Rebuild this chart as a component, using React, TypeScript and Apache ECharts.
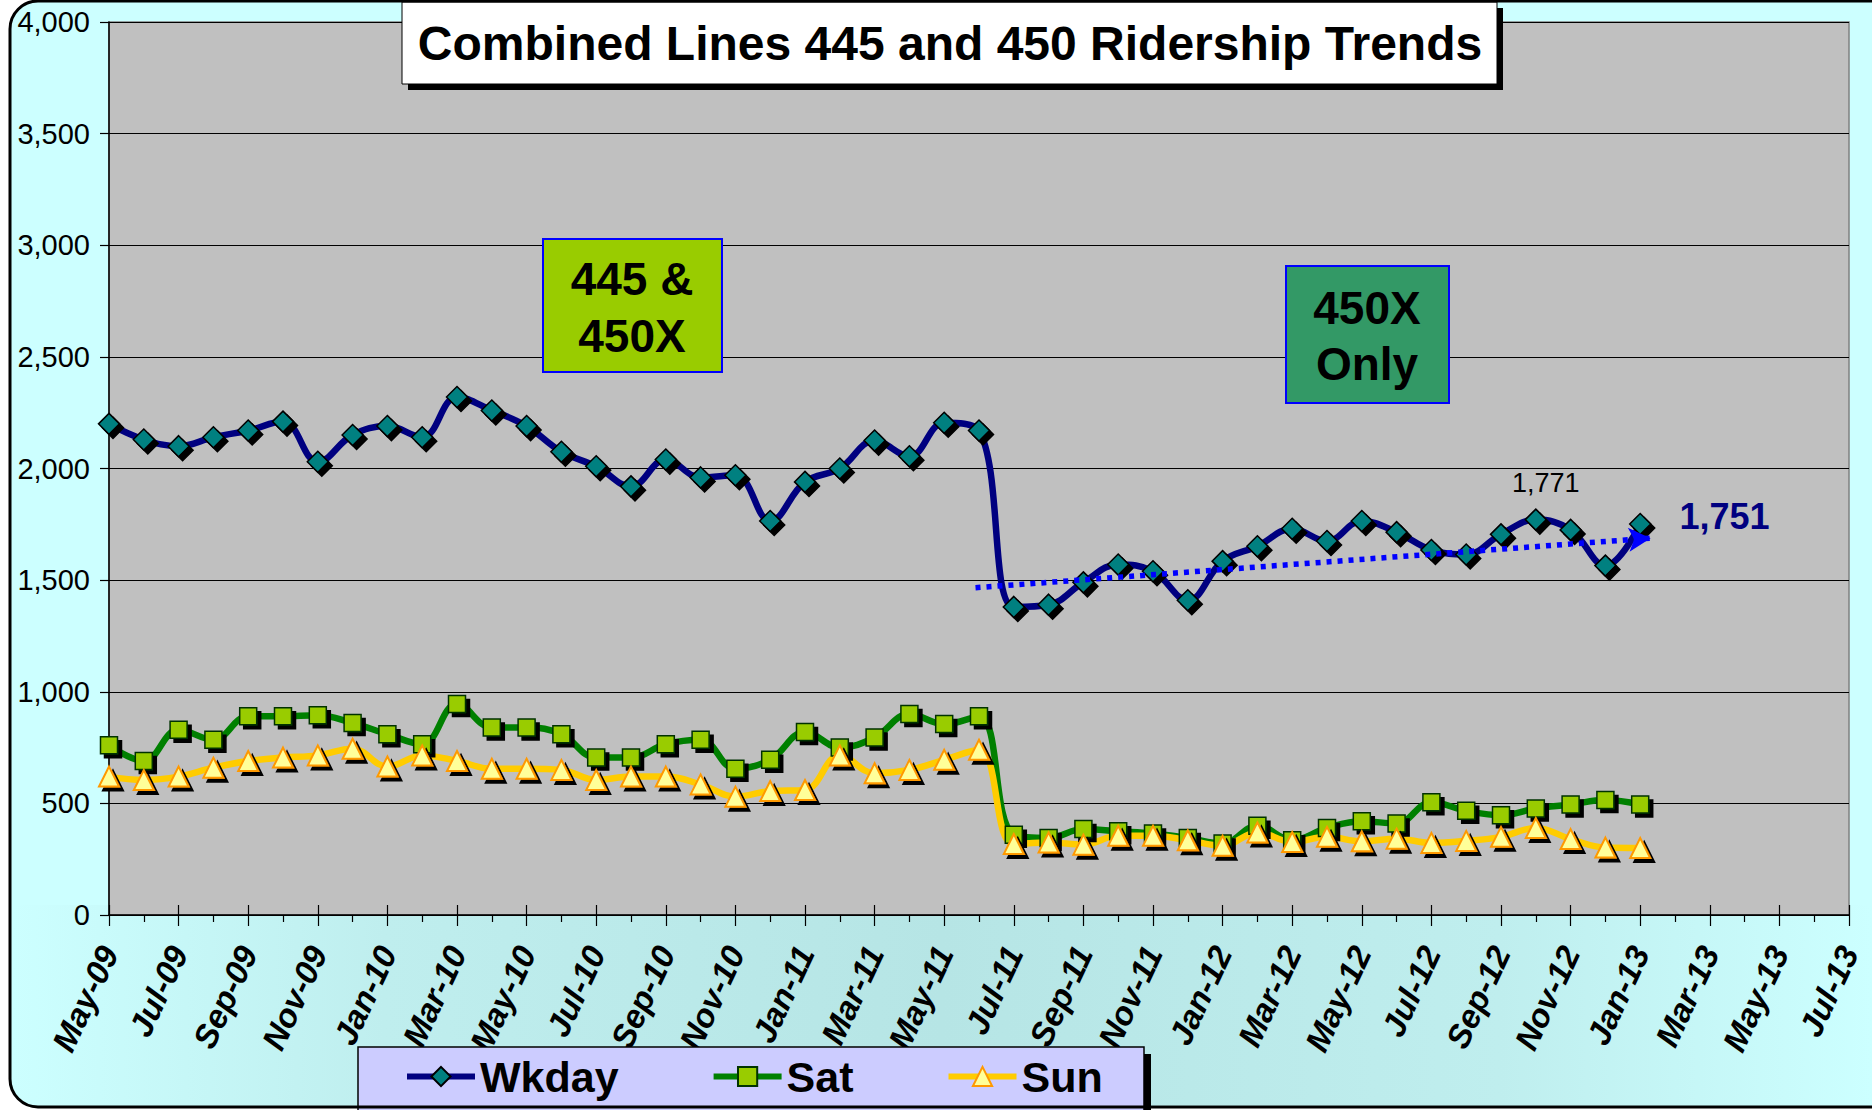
import React, { useEffect, useRef } from "react";
import * as echarts from "echarts";

const FONT = "'Liberation Sans', Arial, Helvetica, sans-serif";

const MONTHS = [
  "May-09", "Jun-09", "Jul-09", "Aug-09", "Sep-09", "Oct-09", "Nov-09", "Dec-09",
  "Jan-10", "Feb-10", "Mar-10", "Apr-10", "May-10", "Jun-10", "Jul-10", "Aug-10", "Sep-10", "Oct-10", "Nov-10", "Dec-10",
  "Jan-11", "Feb-11", "Mar-11", "Apr-11", "May-11", "Jun-11", "Jul-11", "Aug-11", "Sep-11", "Oct-11", "Nov-11", "Dec-11",
  "Jan-12", "Feb-12", "Mar-12", "Apr-12", "May-12", "Jun-12", "Jul-12", "Aug-12", "Sep-12", "Oct-12", "Nov-12", "Dec-12",
  "Jan-13", "Feb-13", "Mar-13", "Apr-13", "May-13", "Jun-13", "Jul-13",
];

const WKDAY = [
  2200, 2130, 2100, 2140, 2170, 2210, 2030, 2150,
  2190, 2140, 2320, 2260, 2190, 2075, 2010, 1920, 2040, 1960, 1970, 1765,
  1940, 2000, 2125, 2055, 2205, 2170, 1380, 1390, 1490, 1570, 1540, 1410,
  1585, 1652, 1730, 1675, 1765, 1715, 1635, 1615, 1705, 1771, 1725, 1565,
  1751,
];

const SAT = [
  760, 690, 830, 785, 890, 890, 895, 860,
  810, 765, 945, 840, 840, 810, 705, 705, 765, 785, 655, 695,
  820, 750, 795, 900, 855, 890, 360, 345, 385, 375, 365, 345,
  320, 400, 335, 390, 420, 410, 505, 467, 447, 477, 495, 515,
  495,
];

const SUN = [
  620, 605, 620, 660, 690, 705, 715, 745,
  665, 715, 690, 655, 655, 650, 605, 620, 620, 585, 530, 555,
  560, 715, 635, 650, 695, 740, 318, 325, 315, 355, 355, 335,
  310, 370, 327, 350, 330, 342, 323, 332, 350, 390, 340, 302,
  300,
];

// Linear trend line (month index, riders)
const TREND_START = [24.9, 1466];
const TREND_END = [44.3, 1688];

const LABELLED_PEAK = 41; // Oct-12
const LABELLED_LAST = 44; // Jan-13

export default function App() {
  const ref = useRef<HTMLDivElement>(null);

  useEffect(() => {
    const chart = echarts.init(ref.current!, null, { renderer: "svg" });

    const wkData = WKDAY.map((v, i) => {
      if (i === LABELLED_PEAK) {
        return {
          value: [i, v],
          label: {
            show: true,
            formatter: v.toLocaleString("en-US"),
            position: "top",
            distance: 12,
            offset: [10, 0],
            fontSize: 27,
            color: "#000",
            fontFamily: FONT,
          },
        };
      }
      if (i === LABELLED_LAST) {
        return {
          value: [i, v],
          label: {
            show: true,
            formatter: v.toLocaleString("en-US"),
            position: "right",
            distance: 28,
            offset: [0, -8],
            fontSize: 36,
            fontWeight: "bold",
            color: "#000080",
            fontFamily: FONT,
          },
        };
      }
      return [i, v];
    });

    const shadow = { shadowColor: "#000", shadowBlur: 0, shadowOffsetX: 4, shadowOffsetY: 4 };

    const option: any = {
      animation: false,
      textStyle: { fontFamily: FONT },
      grid: {
        left: 109,
        right: 23,
        top: 22,
        bottom: 195,
        show: true,
        backgroundColor: "#C0C0C0",
        borderColor: "#808080",
        borderWidth: 1.5,
        z: 0,
      },
      legend: {
        data: ["Wkday", "Sat", "Sun"],
        left: 399,
        top: 1050,
        itemWidth: 68,
        itemHeight: 24,
        itemGap: 92,
        selectedMode: false,
        z: 8,
        lineStyle: { width: 6 },
        textStyle: { fontSize: 43, fontWeight: "bold", color: "#000", fontFamily: FONT },
      },
      xAxis: [
        {
          type: "value",
          min: 0,
          max: 50,
          interval: 2,
          position: "bottom",
          axisLine: { show: true, lineStyle: { color: "#000", width: 1.5 } },
          axisTick: { show: true, length: 11, lineStyle: { color: "#000", width: 1.2 } },
          minorTick: { show: true, splitNumber: 2, length: 7, lineStyle: { color: "#000", width: 1.2 } },
          splitLine: { show: false },
          minorSplitLine: { show: false },
          axisLabel: {
            rotate: 65,
            fontSize: 33,
            fontWeight: "bold",
            fontStyle: "italic",
            color: "#000",
            margin: 33,
            fontFamily: FONT,
            showMinLabel: true,
            showMaxLabel: true,
            formatter: (v: number) => MONTHS[v] ?? "",
          },
        },
        {
          type: "value",
          min: 0,
          max: 50,
          interval: 2,
          position: "bottom",
          axisLine: { show: false },
          axisTick: { show: true, inside: true, length: 10, lineStyle: { color: "#000", width: 1.2 } },
          splitLine: { show: false },
          axisLabel: { show: false },
        },
      ],
      yAxis: {
        type: "value",
        min: 0,
        max: 4000,
        interval: 500,
        axisLine: { show: true, lineStyle: { color: "#000", width: 1.5 } },
        axisTick: { show: true, length: 9, lineStyle: { color: "#000", width: 1.2 } },
        splitLine: { show: true, lineStyle: { color: "#000", width: 1.2 } },
        axisLabel: {
          fontSize: 29,
          color: "#000",
          margin: 19,
          fontFamily: FONT,
          formatter: (v: number) => v.toLocaleString("en-US"),
        },
      },
      series: [
        {
          name: "Wkday",
          type: "line",
          xAxisIndex: 0,
          data: wkData,
          smooth: 0.4,
          symbol: "diamond",
          symbolSize: 21,
          z: 4,
          lineStyle: { color: "#000080", width: 6.5 },
          itemStyle: { color: "#008080", borderColor: "#000", borderWidth: 1.5, ...shadow },
          markLine: {
            silent: true,
            symbol: ["none", "arrow"],
            symbolSize: [18, 22],
            label: { show: false },
            lineStyle: { color: "#0000FF", width: 5.5, type: [5, 6] },
            data: [[{ coord: TREND_START }, { coord: TREND_END }]],
          },
        },
        {
          name: "Sat",
          type: "line",
          xAxisIndex: 0,
          data: SAT.map((v, i) => [i, v]),
          smooth: 0.4,
          symbol: "rect",
          symbolSize: 17,
          z: 3,
          lineStyle: { color: "#008000", width: 6.5 },
          itemStyle: { color: "#99CC00", borderColor: "#003300", borderWidth: 1.5, ...shadow },
        },
        {
          name: "Sun",
          type: "line",
          xAxisIndex: 0,
          data: SUN.map((v, i) => [i, v]),
          smooth: 0.4,
          symbol: "triangle",
          symbolSize: 20,
          z: 3,
          lineStyle: { color: "#FFCC00", width: 6.5 },
          itemStyle: { color: "#FFFF99", borderColor: "#FF9900", borderWidth: 2, ...shadow },
        },
      ],
      graphic: [
        {
          type: "rect",
          z: -20,
          silent: true,
          shape: { x: 10, y: 1, width: 1900, height: 1106, r: 28 },
          style: { fill: "#CCFFFF" },
        },
        {
          type: "rect",
          z: -19,
          silent: true,
          shape: { x: 12, y: 905, width: 1860, height: 200, r: [0, 0, 0, 26] },
          style: {
            fill: new echarts.graphic.LinearGradient(0, 0, 1, 0, [
              { offset: 0, color: "#CCFFFF" },
              { offset: 0.2, color: "#BFEEEE" },
              { offset: 0.5, color: "#B6E5E5" },
              { offset: 0.8, color: "#BFEEEE" },
              { offset: 1, color: "#CCFFFF" },
            ]),
          },
        },
        // title box
        {
          type: "rect",
          z: 20,
          silent: true,
          shape: { x: 408, y: 8, width: 1095, height: 82 },
          style: { fill: "#000" },
        },
        {
          type: "rect",
          z: 21,
          silent: true,
          shape: { x: 402, y: 2, width: 1095, height: 82 },
          style: { fill: "#fff", stroke: "#000", lineWidth: 1 },
        },
        {
          type: "text",
          z: 22,
          silent: true,
          x: 950,
          y: 43,
          style: {
            text: "Combined Lines 445 and 450 Ridership Trends",
            fill: "#000",
            font: `bold 48px ${FONT}`,
            align: "center",
            verticalAlign: "middle",
          },
        },
        // period boxes
        {
          type: "rect",
          z: 20,
          silent: true,
          shape: { x: 543, y: 239, width: 179, height: 133 },
          style: { fill: "#99CC00", stroke: "#0000FF", lineWidth: 2 },
        },
        {
          type: "text",
          z: 21,
          silent: true,
          x: 632,
          y: 307,
          style: {
            text: "445 &\n450X",
            fill: "#000",
            font: `bold 46px ${FONT}`,
            lineHeight: 57,
            align: "center",
            verticalAlign: "middle",
          },
        },
        {
          type: "rect",
          z: 20,
          silent: true,
          shape: { x: 1286, y: 266, width: 163, height: 137 },
          style: { fill: "#339966", stroke: "#0000FF", lineWidth: 2 },
        },
        {
          type: "text",
          z: 21,
          silent: true,
          x: 1367,
          y: 336,
          style: {
            text: "450X\nOnly",
            fill: "#000",
            font: `bold 46px ${FONT}`,
            lineHeight: 56,
            align: "center",
            verticalAlign: "middle",
          },
        },
        // legend box
        {
          type: "rect",
          z: 5,
          silent: true,
          shape: { x: 365, y: 1054, width: 786, height: 80 },
          style: { fill: "#000" },
        },
        {
          type: "rect",
          z: 6,
          silent: true,
          shape: { x: 358, y: 1047, width: 786, height: 80 },
          style: { fill: "#CCCCFF", stroke: "#000", lineWidth: 1.5 },
        },
        // outer frame
        {
          type: "rect",
          z: 100,
          silent: true,
          shape: { x: 10, y: 1, width: 1900, height: 1106, r: 28 },
          style: { fill: "none", stroke: "#000", lineWidth: 3 },
        },
      ],
    };

    chart.setOption(option);
    return () => chart.dispose();
  }, []);

  return (
    <div
      ref={ref}
      style={{ position: "fixed", left: 0, top: 0, width: 1872, height: 1110, background: "#fff" }}
    />
  );
}
